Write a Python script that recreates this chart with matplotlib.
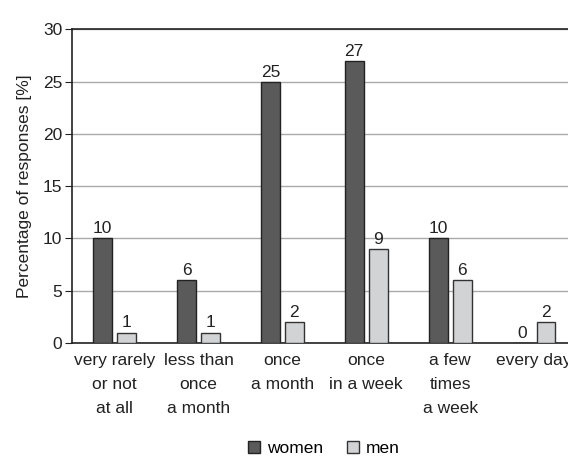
import numpy as np
import matplotlib
matplotlib.use("Agg")
import matplotlib.pyplot as plt

plt.rcParams['font.family'] = ['Liberation Sans Narrow', 'Liberation Sans', 'DejaVu Sans']

categories = ['very rarely\nor not\nat all', 'less than\nonce\na month', 'once\na month',
              'once\nin a week', 'a few\ntimes\na week', 'every day']
women = [10, 6, 25, 27, 10, 0]
men = [1, 1, 2, 9, 6, 2]

fig = plt.figure(figsize=(5.68, 4.58), dpi=100)
ax = fig.add_axes([0.1268, 0.2511, 0.8732, 0.6845])

x = np.arange(len(categories))
w = 0.226
off = 0.143
fs = 12.5
b1 = ax.bar(x - off, women, w, color='#5a5a5a', edgecolor='#222222', linewidth=1, label='women', zorder=3)
b2 = ax.bar(x + off, men, w, color='#d2d3d4', edgecolor='#333333', linewidth=1, label='men', zorder=3)

for xi, v in zip(x - off, women):
    ax.text(xi, v + 0.2, str(v), ha='center', va='bottom', fontsize=fs, color='#222222')
for xi, v in zip(x + off, men):
    ax.text(xi, v + 0.2, str(v), ha='center', va='bottom', fontsize=fs, color='#222222')

ax.set_ylim(0, 30)
ax.set_xlim(-0.507, 5.405)
ax.set_yticks(range(0, 31, 5))
ax.yaxis.grid(True, color='#aaaaaa', linewidth=1, zorder=0)
ax.set_axisbelow(True)
ax.spines['right'].set_visible(False)
for s in ['left', 'top', 'bottom']:
    ax.spines[s].set_color('#222222')
    ax.spines[s].set_linewidth(1.2)

ax.set_xticks(x)
ax.set_xticklabels(categories, fontsize=fs, linespacing=1.75, color='#222222')
ax.tick_params(axis='x', length=0, pad=7)
ax.tick_params(axis='y', labelsize=fs, length=5, color='#222222', labelcolor='#222222', pad=2)
ax.set_ylabel('Percentage of responses [%]', fontsize=fs, color='#222222', labelpad=8)

fig.legend(handles=[b1, b2], loc='center', bbox_to_anchor=(0.57, 0.02), ncol=2, frameon=False,
           fontsize=fs, handlelength=0.7, handleheight=0.7, handletextpad=0.4, columnspacing=1.4)

fig.savefig('out.png', dpi=100)
